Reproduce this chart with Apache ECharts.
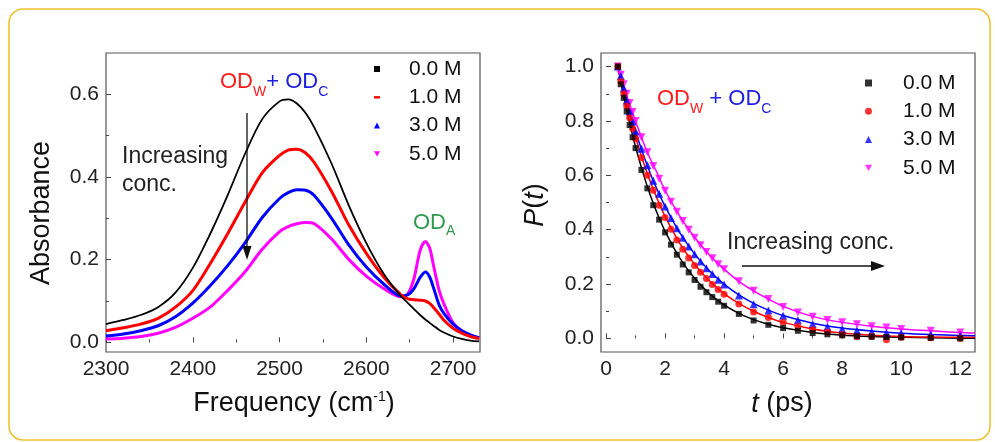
<!DOCTYPE html>
<html><head><meta charset="utf-8">
<script src="https://cdn.jsdelivr.net/npm/echarts@6/dist/echarts.min.js"></script>
<style>html,body{margin:0;padding:0;background:#fff}#c{width:995px;height:442px}</style>
</head><body><div id="c"></div>
<script>
const FONT = "'Liberation Sans', Arial, sans-serif";
const concNames = ['0.0 M', '1.0 M', '3.0 M', '5.0 M'];
const colors = ['#000000', '#ff0000', '#0000ff', '#ff00ff'];

// ---- Left panel: FTIR absorbance spectra ----
const freq = [2300,2320,2340,2360,2380,2400,2420,2440,2460,2480,2500,2510,2520,2530,2540,2560,2580,2600,2620,2640,2648,2655,2662,2668,2673,2678,2684,2690,2700,2710,2720,2730];
const abs00 = [0.044,0.054,0.066,0.085,0.120,0.180,0.262,0.355,0.455,0.540,0.583,0.588,0.578,0.555,0.520,0.432,0.330,0.240,0.166,0.111,0.095,0.080,0.066,0.055,0.047,0.039,0.030,0.023,0.014,0.008,0.004,0.002];
const abs10 = [0.028,0.035,0.044,0.058,0.085,0.125,0.190,0.262,0.338,0.410,0.452,0.465,0.467,0.458,0.435,0.365,0.283,0.215,0.158,0.115,0.105,0.103,0.102,0.100,0.094,0.083,0.068,0.052,0.034,0.022,0.014,0.009];
const abs30 = [0.015,0.020,0.028,0.040,0.062,0.095,0.137,0.185,0.240,0.302,0.348,0.362,0.369,0.368,0.355,0.300,0.235,0.182,0.141,0.112,0.115,0.130,0.157,0.170,0.158,0.128,0.090,0.068,0.044,0.028,0.018,0.011];
const abs50 = [0.008,0.010,0.014,0.022,0.036,0.058,0.085,0.125,0.170,0.225,0.268,0.280,0.287,0.290,0.287,0.250,0.200,0.160,0.130,0.110,0.118,0.155,0.222,0.244,0.228,0.180,0.125,0.090,0.047,0.028,0.016,0.010];
const leftXTicks = [2300,2400,2500,2600,2700];
const leftXMinor = [2350,2450,2550,2650];
const leftYTicks = [0,0.2,0.4,0.6];
const leftYMinor = [0.1,0.3,0.5];

// ---- Right panel: P(t) decays (points) and fits (lines) ----
const tPts = [0.4,0.5,0.6,0.7,0.8,0.9,1.0,1.2,1.4,1.6,1.8,2.0,2.2,2.4,2.6,2.8,3.0,3.2,3.4,3.6,3.8,4.0,4.5,5.0,5.5,6.0,6.5,7.0,7.5,8.0,8.5,9.0,9.5,10,11,12];
const p00 = [1.0,0.935,0.885,0.835,0.785,0.74,0.70,0.62,0.552,0.49,0.437,0.39,0.345,0.308,0.272,0.243,0.215,0.19,0.17,0.152,0.135,0.12,0.09,0.066,0.05,0.038,0.028,0.02,0.015,0.011,0.008,0.006,0.005,0.004,0.002,0.0];
const p10 = [1.0,0.945,0.9,0.855,0.812,0.772,0.735,0.665,0.6,0.545,0.49,0.445,0.402,0.362,0.328,0.296,0.268,0.243,0.22,0.198,0.18,0.162,0.127,0.097,0.077,0.059,0.044,0.032,0.024,0.014,0.006,0.007,-0.005,0.004,0.002,0.001];
const p30 = [1.0,0.965,0.92,0.875,0.835,0.798,0.762,0.698,0.637,0.58,0.532,0.485,0.443,0.405,0.37,0.338,0.31,0.283,0.258,0.237,0.216,0.198,0.158,0.126,0.103,0.083,0.067,0.053,0.043,0.035,0.029,0.024,0.02,0.018,0.014,0.011];
const p50 = [1.0,0.97,0.935,0.9,0.866,0.833,0.8,0.74,0.685,0.634,0.587,0.543,0.503,0.466,0.432,0.4,0.37,0.343,0.318,0.295,0.273,0.254,0.21,0.175,0.145,0.116,0.095,0.08,0.068,0.059,0.052,0.045,0.04,0.035,0.028,0.022];
const tFit = [0.4,0.6,0.8,1.0,1.25,1.5,1.75,2.0,2.5,3.0,3.5,4.0,4.5,5,5.5,6,7,8,9,10,11,12,12.5];
const fit00 = [1.0,0.89,0.792,0.705,0.61,0.527,0.456,0.395,0.295,0.221,0.165,0.123,0.092,0.069,0.052,0.039,0.022,0.012,0.007,0.004,0.002,0.001,0.001];
const fit10 = [1.0,0.905,0.819,0.741,0.654,0.577,0.509,0.449,0.35,0.273,0.212,0.165,0.129,0.1,0.077,0.059,0.035,0.02,0.012,0.007,0.005,0.004,0.004];
const fit30 = [1.0,0.913,0.834,0.762,0.68,0.607,0.543,0.486,0.388,0.311,0.249,0.2,0.16,0.129,0.104,0.084,0.056,0.038,0.027,0.019,0.014,0.011,0.01];
const fit50 = [1.0,0.93,0.862,0.8,0.725,0.66,0.605,0.545,0.45,0.372,0.308,0.255,0.21,0.175,0.145,0.118,0.081,0.059,0.045,0.035,0.028,0.022,0.02];
const rightXTicks = [0,2,4,6,8,10,12];
const rightXMinor = [1,3,5,7,9,11];
const rightYTicks = [0,0.2,0.4,0.6,0.8,1.0];
const rightYMinor = [0.1,0.3,0.5,0.7,0.9];

const absSets = [abs00, abs10, abs30, abs50];
const pSets = [p00, p10, p30, p50];
const fitSets = [fit00, fit10, fit30, fit50];
const leftIcons = ['rect', 'path://M0,0L6,0L6,2.4L0,2.4Z', 'triangle', 'path://M0,0L10,0L5,9Z'];
const rightIcons = ['rect', 'circle', 'triangle', 'path://M0,0L10,0L5,9Z'];
const leftLineW = [1.8, 3, 3, 3];
const rightSizes = [6, 7, 8, 8];

function axis(gi, min, max, ticks, minor, isMinor, pos, fmt) {
  return {
    type: 'value', gridIndex: gi, min: min, max: max, position: pos,
    axisLine: { show: false }, splitLine: { show: false },
    axisTick: { show: true, inside: true, length: isMinor ? 3 : 5,
      customValues: isMinor ? minor : ticks, lineStyle: { color: '#444', width: 1 } },
    axisLabel: { show: !isMinor, customValues: ticks, formatter: fmt,
      color: '#222', fontSize: 21, fontFamily: FONT, margin: 7 }
  };
}
const f1 = v => Number(v).toFixed(1);
const f0 = v => String(Math.round(v));

const series = [];
absSets.forEach((arr, k) => {
  series.push({
    type: 'line', name: 'L' + concNames[k], xAxisIndex: 0, yAxisIndex: 0,
    data: freq.map((f, i) => [f, arr[i]]), showSymbol: false, smooth: 0.3,
    itemStyle: { color: colors[k] }, lineStyle: { color: colors[k], width: leftLineW[k] }, z: 5 - k
  });
});
fitSets.forEach((arr, k) => {
  series.push({
    type: 'line', name: 'fit' + k, xAxisIndex: 2, yAxisIndex: 2,
    data: tFit.map((t, i) => [t, arr[i]]), showSymbol: false, smooth: 0.3,
    itemStyle: { color: colors[k] }, lineStyle: { color: colors[k], width: 1.5 }, z: 3
  });
});
pSets.forEach((arr, k) => {
  series.push({
    type: 'scatter', name: 'R' + concNames[k], xAxisIndex: 2, yAxisIndex: 2,
    data: tPts.map((t, i) => [t, arr[i]]), symbol: rightIcons[k], symbolSize: rightSizes[k],
    itemStyle: { color: colors[k] }, z: 6 - k
  });
});

const legendText = { fontSize: 21, fontFamily: FONT, color: '#111' };
const option = {
  animation: false,
  backgroundColor: '#fff',
  grid: [
    { left: 106, top: 53, width: 374, height: 299, show: true, borderColor: '#555', borderWidth: 1.2, outerBoundsMode: 'none' },
    { left: 601, top: 53, width: 374, height: 299, show: true, borderColor: '#555', borderWidth: 1.2, outerBoundsMode: 'none' }
  ],
  xAxis: [
    axis(0, 2300, 2731, leftXTicks, leftXMinor, false, 'bottom', f0),
    axis(0, 2300, 2731, leftXTicks, leftXMinor, true, 'bottom', f0),
    axis(1, -0.17, 12.5, rightXTicks, rightXMinor, false, 'bottom', f0),
    axis(1, -0.17, 12.5, rightXTicks, rightXMinor, true, 'bottom', f0)
  ],
  yAxis: [
    axis(0, -0.0235, 0.70, leftYTicks, leftYMinor, false, 'left', f1),
    axis(0, -0.0235, 0.70, leftYTicks, leftYMinor, true, 'left', f1),
    axis(1, -0.05, 1.05, rightYTicks, rightYMinor, false, 'left', f1),
    axis(1, -0.05, 1.05, rightYTicks, rightYMinor, true, 'left', f1)
  ],
  legend: [
    { orient: 'vertical', left: 374, top: 58.5, padding: 0, itemWidth: 6, itemHeight: 6, itemGap: 7.3,
      selectedMode: false, formatter: n => n.slice(1),
      data: concNames.map((n, k) => ({ name: 'L' + n, icon: leftIcons[k] })),
      textStyle: Object.assign({ padding: [0, 0, 0, 24] }, legendText) },
    { orient: 'vertical', left: 865, top: 72.5, padding: 0, itemWidth: 7, itemHeight: 7, itemGap: 7.3,
      selectedMode: false, formatter: n => n.slice(1),
      data: concNames.map((n, k) => ({ name: 'R' + n, icon: rightIcons[k] })),
      textStyle: Object.assign({ padding: [0, 0, 0, 26] }, legendText) }
  ],
  graphic: [
    { type: 'rect', shape: { x: 9, y: 9, width: 981, height: 431, r: 14 }, silent: true,
      style: { fill: 'none', stroke: '#f0c232', lineWidth: 1.6 }, z: 100 },
    // OD_W + OD_C labels
    { type: 'text', x: 220, y: 82, style: { text: '{r|OD}{rs|W}{b|+ OD}{bs|C}', textVerticalAlign: 'middle', font: '22px ' + FONT,
      rich: { r: { fill: '#ff1a1a', fontSize: 22, lineHeight: 34, fontFamily: FONT }, rs: { fill: '#ff1a1a', fontSize: 14, verticalAlign: 'bottom', fontFamily: FONT },
              b: { fill: '#2020e0', fontSize: 22, lineHeight: 34, fontFamily: FONT }, bs: { fill: '#2020e0', fontSize: 14, verticalAlign: 'bottom', fontFamily: FONT } } }, z: 50 },
    { type: 'text', x: 657, y: 99, style: { text: '{r|OD}{rs|W}{b| + OD}{bs|C}', textVerticalAlign: 'middle', font: '22px ' + FONT,
      rich: { r: { fill: '#ff1a1a', fontSize: 22, lineHeight: 34, fontFamily: FONT }, rs: { fill: '#ff1a1a', fontSize: 14, verticalAlign: 'bottom', fontFamily: FONT },
              b: { fill: '#2020e0', fontSize: 22, lineHeight: 34, fontFamily: FONT }, bs: { fill: '#2020e0', fontSize: 14, verticalAlign: 'bottom', fontFamily: FONT } } }, z: 50 },
    { type: 'text', x: 413, y: 223, style: { text: '{g|OD}{gs|A}', textVerticalAlign: 'middle', font: '22px ' + FONT,
      rich: { g: { fill: '#2e9a50', fontSize: 22, lineHeight: 30, fontFamily: FONT }, gs: { fill: '#2e9a50', fontSize: 14, verticalAlign: 'bottom', fontFamily: FONT } } }, z: 50 },
    // Increasing conc. annotations
    { type: 'text', x: 122, y: 143, style: { text: 'Increasing\nconc.', fill: '#222', font: '23px ' + FONT, lineHeight: 28, textVerticalAlign: 'top' }, z: 50 },
    { type: 'text', x: 727, y: 243, style: { text: 'Increasing conc.', fill: '#222', font: '23px ' + FONT, textVerticalAlign: 'middle' }, z: 50 },
    { type: 'line', shape: { x1: 247, y1: 113, x2: 247, y2: 248 }, style: { stroke: '#111', lineWidth: 1.3 }, z: 50 },
    { type: 'polygon', shape: { points: [[242.5, 246], [251.5, 246], [247, 260]] }, style: { fill: '#111' }, z: 50 },
    { type: 'line', shape: { x1: 742, y1: 266, x2: 873, y2: 266 }, style: { stroke: '#111', lineWidth: 1.3 }, z: 50 },
    { type: 'polygon', shape: { points: [[871, 261], [871, 271], [885, 266]] }, style: { fill: '#111' }, z: 50 },
    // Axis titles
    { type: 'text', x: 42, y: 213, rotation: Math.PI / 2, style: { text: 'Absorbance', fill: '#111', font: '27px ' + FONT, textAlign: 'center', textVerticalAlign: 'middle' }, z: 50 },
    { type: 'text', x: 294, y: 404, style: { text: 'Frequency (cm{s|-1})', fill: '#111', font: '27px ' + FONT, textAlign: 'center', textVerticalAlign: 'middle',
      rich: { s: { fontSize: 14, verticalAlign: 'top', fill: '#111', fontFamily: FONT } } }, z: 50 },
    { type: 'text', x: 535, y: 205, rotation: Math.PI / 2, style: { text: '{i|P}({i|t})', fill: '#111', font: '27px ' + FONT, textAlign: 'center', textVerticalAlign: 'middle',
      rich: { i: { fontStyle: 'italic', fontSize: 27, fontFamily: FONT, fill: '#111' } } }, z: 50 },
    { type: 'text', x: 782, y: 404, style: { text: '{i|t} (ps)', fill: '#111', font: '27px ' + FONT, textAlign: 'center', textVerticalAlign: 'middle',
      rich: { i: { fontStyle: 'italic', fontSize: 27, fontFamily: FONT, fill: '#111' } } }, z: 50 }
  ],
  series: series
};
const chart = echarts.init(document.getElementById('c'), null, { renderer: 'canvas' });
chart.setOption(option);
</script></body></html>
